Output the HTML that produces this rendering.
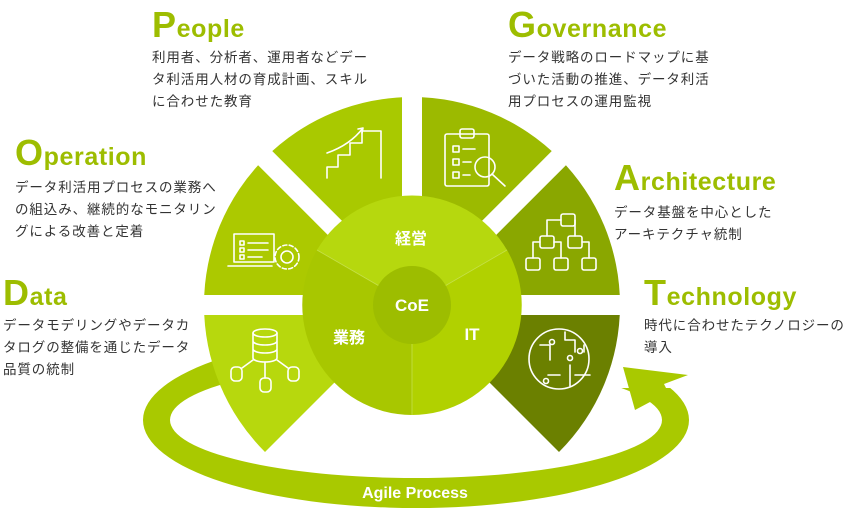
<!DOCTYPE html>
<html><head><meta charset="utf-8"><style>
body{margin:0;background:#fff;}
svg{display:block;}
.t{font-family:"Liberation Sans","Noto Sans CJK JP",sans-serif;font-weight:bold;fill:#9dbd00;letter-spacing:0.6px;}
.d{font-family:"Liberation Sans","Noto Sans CJK JP",sans-serif;font-size:13.5px;letter-spacing:0.9px;fill:#333;}
.w{font-family:"Liberation Sans","Noto Sans CJK JP",sans-serif;font-weight:bold;fill:#fff;}
.ic{fill:none;stroke:#fff;stroke-width:1.6;stroke-linejoin:round;stroke-linecap:round;}
</style></head><body>
<svg width="848" height="511" viewBox="0 0 848 511">
<!-- agile ring -->
<path fill-rule="evenodd" fill="#a9c900" d="M143,420 A273,88 0 1,0 689,420 A273,88 0 1,0 143,420 Z M170,420 A246,58 0 1,0 662,420 A246,58 0 1,0 170,420 Z"/>
<polygon points="560,300 720,300 720,388 600,388" fill="#fff"/>
<polygon points="623,367 688,375 664,384 672,400 650,402 635,410" fill="#a9c900"/>
<!-- sectors -->
<g>
<path d="M412,305 L265,158 A208,208 0 0,1 412,97 Z" fill="#a9c900"/>
<path d="M412,305 L412,97 A208,208 0 0,1 559,158 Z" fill="#9cba00"/>
<path d="M412,305 L559,158 A208,208 0 0,1 620,305 Z" fill="#8aa700"/>
<path d="M412,305 L620,305 A208,208 0 0,1 559,452 Z" fill="#6b8000"/>
<path d="M412,305 L204,305 A208,208 0 0,1 265,158 Z" fill="#acc900"/>
<path d="M412,305 L265,452 A208,208 0 0,1 204,305 Z" fill="#b7d80d"/>
<g stroke="#fff" stroke-width="20">
<line x1="412" y1="305" x2="412" y2="80"/>
<line x1="412" y1="305" x2="620" y2="305"/>
<line x1="412" y1="305" x2="195" y2="305"/>
<line x1="412" y1="305" x2="252" y2="145"/>
<line x1="412" y1="305" x2="572" y2="145"/>
</g>
</g>
<!-- inner circle -->
<path d="M412,305 L507,250 A110,110 0 0,0 317,250 Z" fill="#b6d80e"/>
<path d="M412,305 L317,250 A110,110 0 0,0 412,415 Z" fill="#a8c700"/>
<path d="M412,305 L412,415 A110,110 0 0,0 507,250 Z" fill="#b1d100"/>
<g stroke="#c5e04a" stroke-width="0.8"><line x1="412" y1="305" x2="507" y2="250"/><line x1="412" y1="305" x2="317" y2="250"/><line x1="412" y1="305" x2="412" y2="415"/></g>
<circle cx="412" cy="305" r="39" fill="#9dbd00"/>
<text class="w" x="412" y="311" font-size="17" text-anchor="middle">CoE</text>
<text class="w" x="411" y="244" font-size="16" text-anchor="middle">経営</text>
<text class="w" x="349" y="343" font-size="16" text-anchor="middle">業務</text>
<text class="w" x="472" y="340" font-size="17" text-anchor="middle">IT</text>
<text class="w" x="415" y="498" font-size="16" text-anchor="middle">Agile Process</text>
<!-- icons -->
<g class="ic">
<path d="M327,178 V167 H338 V155 H350 V143 H362 V131 H381 V178"/>
<path d="M327,153 Q350,145 363,128 L362,133 M363,128 L358,129"/>
<rect x="445" y="134" width="44" height="52" rx="2"/><rect x="460" y="129" width="14" height="9" rx="2"/>
<rect x="453" y="146" width="6" height="6"/><rect x="453" y="159" width="6" height="6"/><rect x="453" y="172" width="6" height="6"/>
<line x1="463" y1="149" x2="475" y2="149"/><line x1="463" y1="162" x2="471" y2="162"/><line x1="463" y1="175" x2="470" y2="175"/>
<circle cx="485" cy="167" r="10"/><line x1="492" y1="174" x2="505" y2="186"/>
<rect x="561" y="214" width="14" height="12" rx="2"/><rect x="540" y="236" width="14" height="12" rx="2"/><rect x="568" y="236" width="14" height="12" rx="2"/>
<rect x="526" y="258" width="14" height="12" rx="2"/><rect x="554" y="258" width="14" height="12" rx="2"/><rect x="582" y="258" width="14" height="12" rx="2"/>
<path d="M561,220 H547 V236 M575,220 H575 V236 M540,242 H533 V258 M554,242 H561 V258 M582,242 H589 V258"/>
<circle cx="559" cy="359" r="30"/>
<path d="M540,345 H550 V360 M548,375 H560 M565,332 V340 H575 V352 M584,352 V345 M570,386 V365 M575,375 H590"/>
<circle cx="552" cy="342" r="2.5"/><circle cx="570" cy="358" r="2.5"/><circle cx="580" cy="351" r="2.5"/><circle cx="546" cy="381" r="2.5"/>
<rect x="234" y="234" width="40" height="28"/><path d="M228,266 H272"/>
<rect x="240" y="241" width="4" height="4"/><rect x="240" y="248" width="4" height="4"/><rect x="240" y="255" width="4" height="4"/>
<line x1="248" y1="243" x2="268" y2="243"/><line x1="248" y1="250" x2="268" y2="250"/><line x1="248" y1="257" x2="262" y2="257"/>
<circle cx="287" cy="257" r="12" stroke-dasharray="4 2.5"/><circle cx="287" cy="257" r="6"/>
<ellipse cx="265" cy="333" rx="12" ry="4"/><path d="M253,333 V358 A12,4 0 0,0 277,358 V333 M253,341 A12,4 0 0,0 277,341 M253,349 A12,4 0 0,0 277,349"/>
<path d="M265,362 V378 M253,360 L242,368 M277,360 L288,368"/>
<rect x="231" y="367" width="11" height="14" rx="4"/><rect x="288" y="367" width="11" height="14" rx="4"/><rect x="260" y="378" width="11" height="14" rx="4"/>
</g>
<!-- labels -->
<text class="t" x="152" y="37" font-size="25"><tspan font-size="36">P</tspan>eople</text>
<text class="d" x="152" y="62">利用者、分析者、運用者などデー</text>
<text class="d" x="152" y="84">タ利活用人材の育成計画、スキル</text>
<text class="d" x="152" y="106">に合わせた教育</text>
<text class="t" x="508" y="37" font-size="25"><tspan font-size="36">G</tspan>overnance</text>
<text class="d" x="508" y="62">データ戦略のロードマップに基</text>
<text class="d" x="508" y="84">づいた活動の推進、データ利活</text>
<text class="d" x="508" y="106">用プロセスの運用監視</text>
<text class="t" x="15" y="165" font-size="25"><tspan font-size="36">O</tspan>peration</text>
<text class="d" x="15" y="192">データ利活用プロセスの業務へ</text>
<text class="d" x="15" y="214">の組込み、継続的なモニタリン</text>
<text class="d" x="15" y="236">グによる改善と定着</text>
<text class="t" x="614" y="190" font-size="25"><tspan font-size="36">A</tspan>rchitecture</text>
<text class="d" x="614" y="217">データ基盤を中心とした</text>
<text class="d" x="614" y="239">アーキテクチャ統制</text>
<text class="t" x="3" y="305" font-size="25"><tspan font-size="36">D</tspan>ata</text>
<text class="d" x="3" y="330">データモデリングやデータカ</text>
<text class="d" x="3" y="352">タログの整備を通じたデータ</text>
<text class="d" x="3" y="374">品質の統制</text>
<text class="t" x="644" y="305" font-size="25"><tspan font-size="36">T</tspan>echnology</text>
<text class="d" x="644" y="330">時代に合わせたテクノロジーの</text>
<text class="d" x="644" y="352">導入</text>
</svg>
</body></html>
